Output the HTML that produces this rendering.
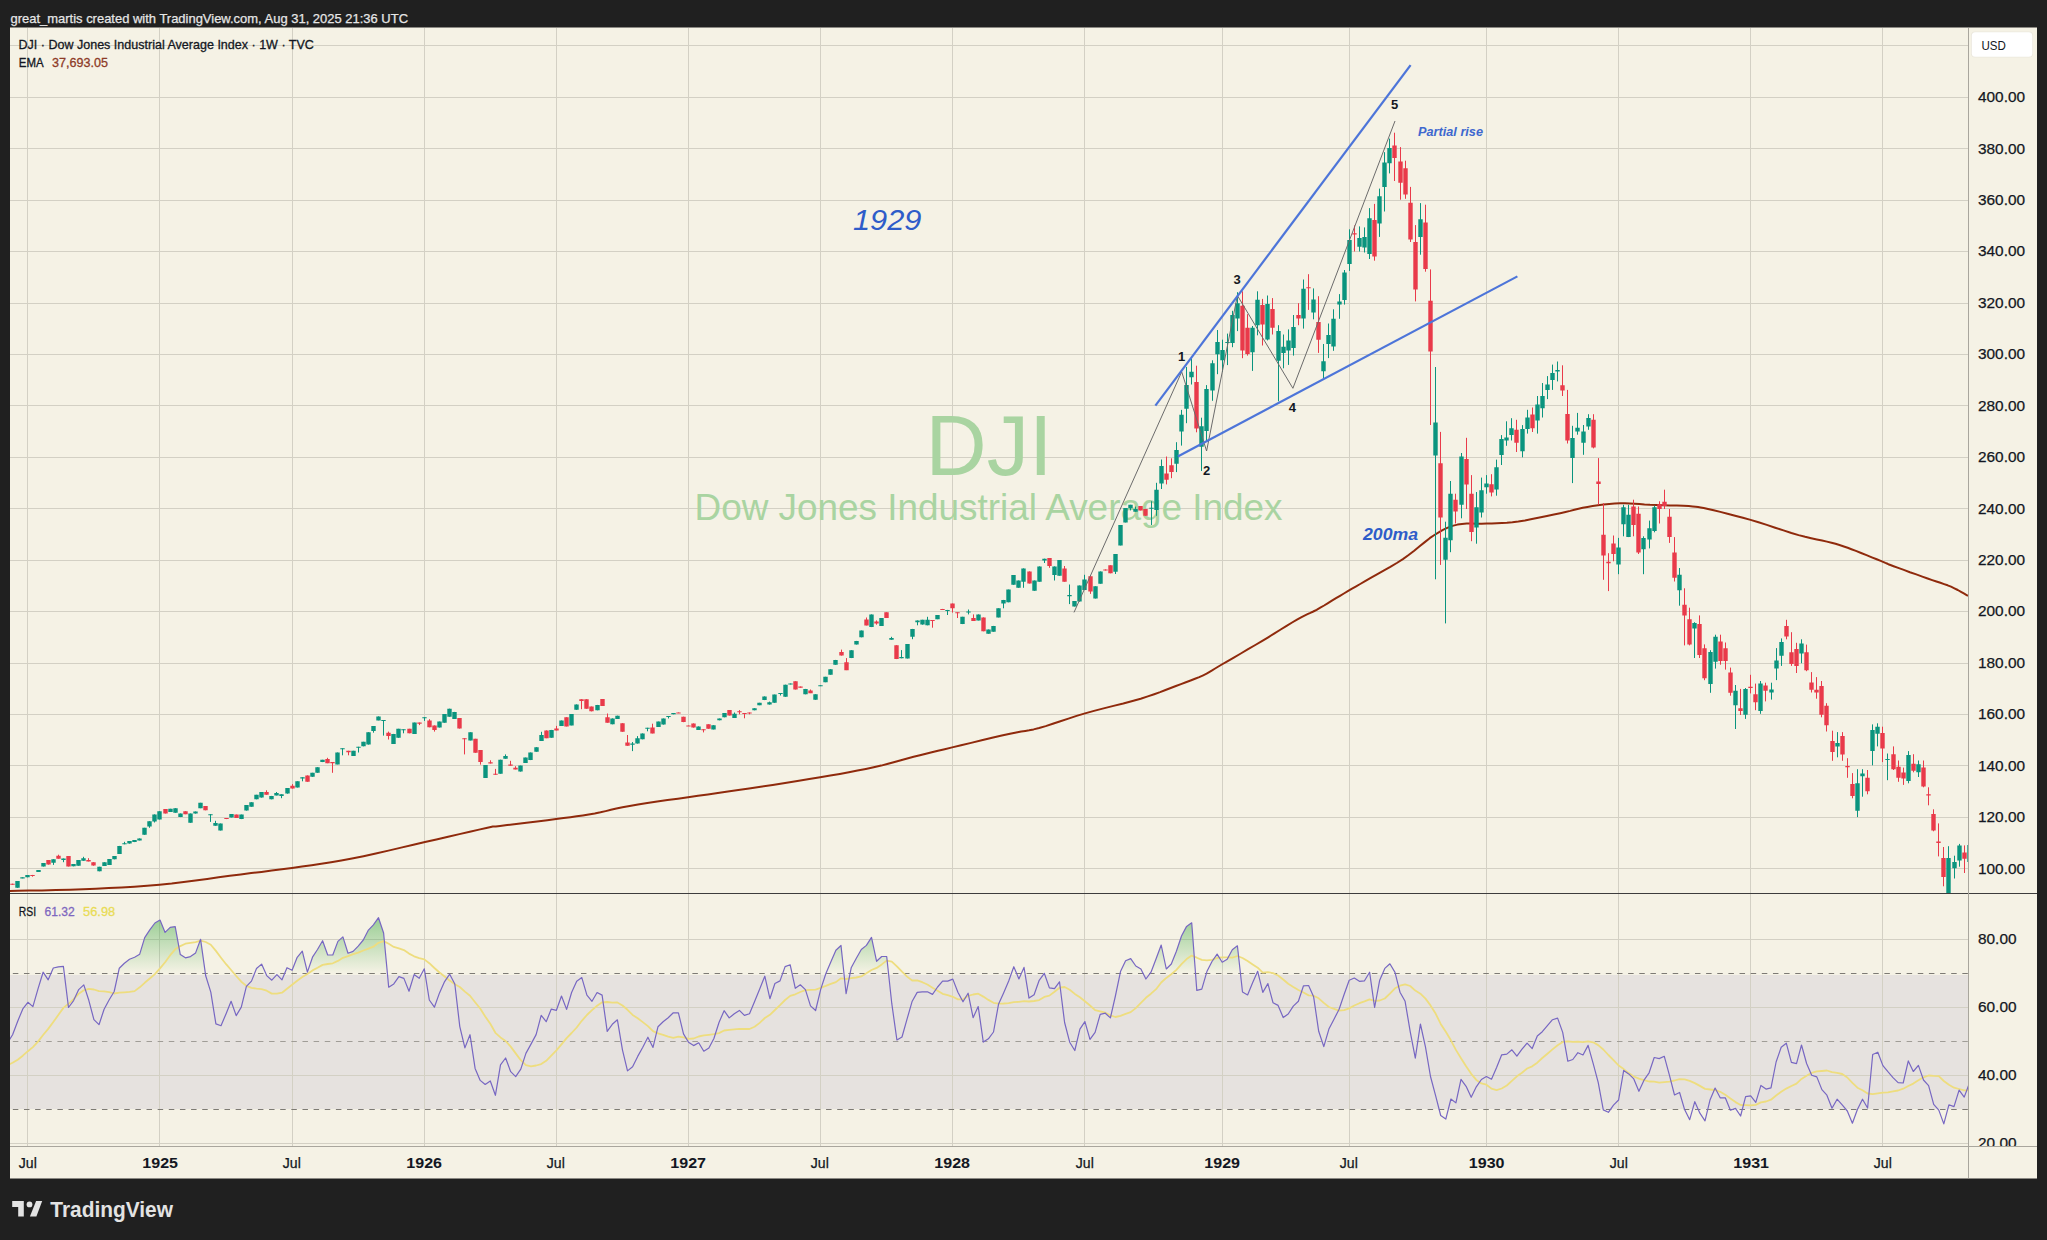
<!DOCTYPE html>
<html><head><meta charset="utf-8"><style>html,body{margin:0;padding:0;background:#202020;}svg{display:block;}text{font-family:"Liberation Sans",sans-serif;}</style></head>
<body><svg width="2047" height="1240" viewBox="0 0 2047 1240">
<rect x="0" y="0" width="2047" height="1240" fill="#202020"/>
<rect x="10" y="27.5" width="2027" height="1151" fill="#f5f2e5"/>
<rect x="10" y="975" width="1958" height="134" fill="#e6e2df"/>
<line x1="27.5" y1="28" x2="27.5" y2="1147" stroke="#d3d0c4" stroke-width="1"/>
<line x1="159.5" y1="28" x2="159.5" y2="1147" stroke="#d3d0c4" stroke-width="1"/>
<line x1="292.5" y1="28" x2="292.5" y2="1147" stroke="#d3d0c4" stroke-width="1"/>
<line x1="424.5" y1="28" x2="424.5" y2="1147" stroke="#d3d0c4" stroke-width="1"/>
<line x1="556.5" y1="28" x2="556.5" y2="1147" stroke="#d3d0c4" stroke-width="1"/>
<line x1="688.5" y1="28" x2="688.5" y2="1147" stroke="#d3d0c4" stroke-width="1"/>
<line x1="820.5" y1="28" x2="820.5" y2="1147" stroke="#d3d0c4" stroke-width="1"/>
<line x1="952.5" y1="28" x2="952.5" y2="1147" stroke="#d3d0c4" stroke-width="1"/>
<line x1="1084.5" y1="28" x2="1084.5" y2="1147" stroke="#d3d0c4" stroke-width="1"/>
<line x1="1222.5" y1="28" x2="1222.5" y2="1147" stroke="#d3d0c4" stroke-width="1"/>
<line x1="1349.5" y1="28" x2="1349.5" y2="1147" stroke="#d3d0c4" stroke-width="1"/>
<line x1="1486.5" y1="28" x2="1486.5" y2="1147" stroke="#d3d0c4" stroke-width="1"/>
<line x1="1618.5" y1="28" x2="1618.5" y2="1147" stroke="#d3d0c4" stroke-width="1"/>
<line x1="1750.5" y1="28" x2="1750.5" y2="1147" stroke="#d3d0c4" stroke-width="1"/>
<line x1="1882.5" y1="28" x2="1882.5" y2="1147" stroke="#d3d0c4" stroke-width="1"/>
<line x1="10" y1="868.5" x2="1968" y2="868.5" stroke="#d3d0c4" stroke-width="1"/>
<line x1="10" y1="817.5" x2="1968" y2="817.5" stroke="#d3d0c4" stroke-width="1"/>
<line x1="10" y1="765.5" x2="1968" y2="765.5" stroke="#d3d0c4" stroke-width="1"/>
<line x1="10" y1="714.5" x2="1968" y2="714.5" stroke="#d3d0c4" stroke-width="1"/>
<line x1="10" y1="663.5" x2="1968" y2="663.5" stroke="#d3d0c4" stroke-width="1"/>
<line x1="10" y1="611.5" x2="1968" y2="611.5" stroke="#d3d0c4" stroke-width="1"/>
<line x1="10" y1="560.5" x2="1968" y2="560.5" stroke="#d3d0c4" stroke-width="1"/>
<line x1="10" y1="508.5" x2="1968" y2="508.5" stroke="#d3d0c4" stroke-width="1"/>
<line x1="10" y1="457.5" x2="1968" y2="457.5" stroke="#d3d0c4" stroke-width="1"/>
<line x1="10" y1="405.5" x2="1968" y2="405.5" stroke="#d3d0c4" stroke-width="1"/>
<line x1="10" y1="354.5" x2="1968" y2="354.5" stroke="#d3d0c4" stroke-width="1"/>
<line x1="10" y1="303.5" x2="1968" y2="303.5" stroke="#d3d0c4" stroke-width="1"/>
<line x1="10" y1="251.5" x2="1968" y2="251.5" stroke="#d3d0c4" stroke-width="1"/>
<line x1="10" y1="200.5" x2="1968" y2="200.5" stroke="#d3d0c4" stroke-width="1"/>
<line x1="10" y1="148.5" x2="1968" y2="148.5" stroke="#d3d0c4" stroke-width="1"/>
<line x1="10" y1="97.5" x2="1968" y2="97.5" stroke="#d3d0c4" stroke-width="1"/>
<line x1="10" y1="45.5" x2="1968" y2="45.5" stroke="#d3d0c4" stroke-width="1"/>
<line x1="10" y1="1143.5" x2="1968" y2="1143.5" stroke="#d3d0c4" stroke-width="1"/>
<line x1="10" y1="1075.5" x2="1968" y2="1075.5" stroke="#d3d0c4" stroke-width="1"/>
<line x1="10" y1="1007.5" x2="1968" y2="1007.5" stroke="#d3d0c4" stroke-width="1"/>
<line x1="10" y1="939.5" x2="1968" y2="939.5" stroke="#d3d0c4" stroke-width="1"/>
<line x1="10" y1="973.5" x2="1968" y2="973.5" stroke="#7d7a74" stroke-width="1" stroke-dasharray="5.5,5.64" stroke-dashoffset="8.3"/>
<line x1="10" y1="1041.5" x2="1968" y2="1041.5" stroke="#a09d97" stroke-width="1" stroke-dasharray="5.5,5.64" stroke-dashoffset="8.3"/>
<line x1="10" y1="1109.5" x2="1968" y2="1109.5" stroke="#7d7a74" stroke-width="1" stroke-dasharray="5.5,5.64" stroke-dashoffset="8.3"/>
<text x="989" y="474.8" font-family="Liberation Sans" font-size="86" fill="#a9d4a1" text-anchor="middle" textLength="127" lengthAdjust="spacingAndGlyphs">DJI</text>
<text x="988.5" y="520" font-family="Liberation Sans" font-size="37" fill="#a9d4a1" text-anchor="middle" textLength="588" lengthAdjust="spacingAndGlyphs">Dow Jones Industrial Average Index</text>
<defs><clipPath id="mc"><rect x="10" y="28" width="1958" height="865"/></clipPath><clipPath id="rc"><rect x="10" y="894" width="1958" height="253"/></clipPath></defs>
<g clip-path="url(#mc)">
<polyline fill="none" stroke="#8f2a0c" stroke-width="2" stroke-linejoin="round" points="10.0,891.0 17.9,890.8 28.9,890.6 41.9,890.4 55.9,890.1 70.1,889.7 83.3,889.2 95.9,888.7 108.7,888.1 121.6,887.5 134.4,886.7 147.1,885.8 159.5,884.8 171.7,883.6 183.7,882.1 195.5,880.5 207.2,878.9 218.6,877.3 229.8,875.8 240.7,874.4 251.2,873.1 261.5,871.9 271.7,870.6 281.9,869.3 292.0,867.9 302.0,866.5 311.7,865.2 321.3,863.8 331.1,862.3 341.3,860.6 352.0,858.6 363.5,856.2 375.8,853.5 388.4,850.6 401.1,847.6 413.4,844.7 425.0,842.0 436.4,839.4 448.1,836.7 459.4,834.1 469.8,831.7 479.0,829.6 486.3,828.0 490.8,827.0 492.8,826.6 493.5,826.5 494.1,826.5 495.8,826.4 500.0,825.9 507.1,825.0 516.2,823.9 526.5,822.7 537.1,821.5 547.3,820.2 556.1,819.1 563.6,818.1 570.4,817.2 576.7,816.3 582.8,815.4 588.7,814.4 594.7,813.4 600.5,812.3 605.7,811.1 610.9,809.8 616.4,808.6 622.5,807.2 629.6,805.9 638.0,804.5 647.3,803.1 657.2,801.6 667.5,800.1 677.9,798.7 688.1,797.2 698.0,795.8 707.9,794.4 717.8,793.0 727.9,791.6 738.3,790.1 749.1,788.5 760.6,786.8 772.7,784.9 785.1,783.0 797.4,781.0 809.3,779.1 820.2,777.3 830.3,775.6 839.8,773.9 848.9,772.3 857.5,770.6 865.8,769.0 873.7,767.3 881.2,765.6 888.1,763.8 894.6,762.0 900.9,760.2 907.2,758.5 913.6,756.8 919.9,755.2 925.9,753.7 931.8,752.3 938.0,750.8 944.7,749.2 952.2,747.4 961.1,745.3 971.1,742.9 981.7,740.3 992.1,737.8 1001.8,735.6 1010.0,733.7 1016.3,732.4 1021.2,731.5 1025.3,730.9 1029.2,730.3 1033.6,729.4 1039.1,728.0 1045.7,726.1 1052.8,723.8 1060.4,721.3 1068.4,718.6 1076.6,715.9 1085.0,713.4 1094.0,710.9 1103.6,708.4 1113.5,705.9 1123.3,703.5 1132.5,701.0 1140.7,698.7 1147.8,696.4 1154.2,694.2 1160.1,692.1 1165.5,690.0 1170.7,688.0 1175.9,686.0 1181.0,684.1 1185.9,682.3 1190.6,680.5 1195.0,678.8 1199.2,677.1 1203.2,675.3 1206.6,673.7 1209.2,672.2 1211.7,670.7 1214.3,669.0 1217.6,667.0 1221.8,664.5 1227.3,661.3 1233.8,657.6 1240.8,653.5 1248.1,649.2 1255.3,645.0 1261.9,641.1 1268.2,637.3 1274.5,633.4 1280.7,629.5 1286.6,625.8 1292.1,622.5 1297.0,619.6 1301.1,617.3 1304.5,615.6 1307.5,614.2 1310.4,612.9 1313.3,611.5 1316.6,609.8 1320.3,607.7 1324.1,605.5 1328.0,603.1 1331.9,600.7 1336.0,598.2 1340.0,595.8 1343.9,593.5 1347.8,591.2 1351.6,588.9 1355.7,586.6 1360.2,584.0 1365.1,581.1 1370.7,577.9 1377.0,574.4 1383.6,570.7 1390.3,566.9 1396.8,563.0 1402.9,559.1 1408.6,555.0 1414.2,550.7 1419.6,546.3 1424.8,542.1 1429.7,538.2 1434.4,535.0 1438.7,532.4 1442.5,530.2 1446.1,528.4 1449.7,526.9 1453.4,525.6 1457.5,524.6 1462.0,523.9 1466.7,523.6 1471.6,523.6 1476.6,523.7 1481.7,523.7 1486.8,523.6 1491.8,523.4 1496.8,523.2 1501.8,523.0 1506.9,522.7 1512.4,522.2 1518.3,521.5 1524.9,520.5 1532.0,519.1 1539.5,517.6 1546.9,516.0 1553.9,514.5 1560.2,513.2 1565.5,512.0 1570.2,510.9 1574.4,509.8 1578.6,508.7 1582.8,507.8 1587.5,506.9 1592.6,506.1 1598.0,505.3 1603.6,504.6 1609.2,504.0 1614.7,503.6 1620.0,503.3 1625.0,503.3 1629.9,503.4 1634.6,503.7 1639.4,504.1 1644.5,504.5 1650.0,504.8 1656.2,505.0 1663.0,505.2 1670.0,505.4 1676.9,505.6 1683.3,505.8 1688.7,506.1 1692.8,506.4 1695.7,506.7 1698.1,507.0 1700.6,507.4 1703.7,508.0 1708.0,509.0 1713.7,510.3 1720.3,511.9 1727.5,513.7 1735.1,515.7 1742.9,517.7 1750.6,519.9 1758.5,522.3 1766.8,524.9 1775.2,527.7 1783.5,530.4 1791.4,533.0 1798.6,535.1 1805.1,536.8 1811.2,538.2 1816.8,539.4 1822.1,540.5 1826.9,541.6 1831.5,542.7 1835.5,543.8 1838.7,544.8 1841.7,545.7 1844.6,546.7 1847.7,547.8 1851.4,549.2 1855.9,550.9 1861.1,553.0 1866.5,555.1 1871.8,557.3 1876.7,559.3 1880.7,560.9 1883.6,562.1 1885.4,562.9 1886.9,563.5 1888.3,564.2 1890.4,565.0 1893.6,566.2 1898.2,567.9 1903.8,569.9 1909.9,572.2 1916.3,574.4 1922.3,576.6 1927.6,578.5 1932.2,580.1 1936.4,581.5 1940.4,582.8 1944.1,584.1 1947.6,585.3 1951.0,586.7 1954.4,588.3 1957.8,590.0 1961.0,591.8 1963.8,593.4 1966.2,594.8 1968.0,595.8"/>
<path d="M17.5 881.0V887.8M22.5 877.3V878.3M27.5 875.1V877.3M38.5 870.1V871.9M43.5 863.1V866.5M53.5 859.2V864.9M63.5 858.5V862.2M73.5 864.1V866.3M78.5 860.1V865.7M83.5 856.8V860.8M99.5 866.8V871.3M104.5 862.2V866.0M109.5 859.0V864.9M114.5 856.1V859.3M119.5 845.9V853.9M124.5 841.8V844.3M129.5 841.0V843.6M134.5 840.0V842.1M139.5 838.4V840.4M144.5 827.8V834.8M149.5 821.2V827.8M154.5 814.4V822.5M159.5 811.2V819.5M170.5 808.8V812.0M175.5 808.2V812.8M180.5 813.5V817.1M190.5 813.5V822.8M195.5 811.5V813.6M200.5 802.8V808.2M210.5 814.2V821.9M215.5 820.8V825.7M220.5 823.5V830.5M231.5 814.0V817.4M241.5 814.6V819.1M246.5 805.0V810.6M251.5 802.2V806.7M256.5 794.8V799.3M261.5 792.0V797.6M271.5 795.9V799.3M276.5 792.0V795.4M281.5 794.3V798.2M287.5 788.0V793.7M297.5 781.3V787.5M302.5 777.3V781.3M312.5 772.8V776.8M317.5 767.2V772.8M322.5 759.8V762.1M337.5 752.5V764.3M342.5 748.3V755.3M353.5 750.8V755.9M358.5 746.8V752.5M363.5 741.8V746.3M368.5 732.2V744.6M373.5 726.0V732.7M378.5 716.4V720.3M383.5 720.1V735.6M393.5 733.9V744.0M398.5 728.8V737.8M403.5 729.3V733.3M414.5 722.6V733.9M424.5 717.2V720.9M439.5 721.6V727.5M444.5 714.1V722.7M449.5 708.7V716.7M454.5 711.9V718.9M470.5 732.3V740.4M485.5 765.1V778.0M500.5 759.7V773.7M505.5 754.4V758.7M520.5 765.6V771.6M525.5 757.6V763.0M530.5 752.5V760.1M536.5 747.2V751.7M541.5 731.8V740.9M551.5 729.9V737.7M561.5 720.5V725.9M571.5 714.1V725.3M576.5 704.4V709.8M597.5 704.9V710.3M612.5 718.4V724.3M617.5 715.7V718.9M632.5 742.0V751.1M637.5 736.1V743.6M642.5 733.4V739.3M647.5 727.8V731.3M658.5 721.6V727.0M663.5 718.5V724.6M668.5 716.1V718.5M673.5 713.1V714.3M698.5 726.4V730.0M713.5 725.2V729.4M719.5 718.5V720.3M724.5 713.1V717.3M734.5 712.5V717.9M754.5 708.2V710.3M759.5 702.8V705.2M764.5 696.4V700.1M769.5 701.6V704.6M774.5 694.6V702.8M780.5 693.1V695.5M785.5 684.7V696.8M790.5 683.5V684.4M805.5 688.9V694.3M815.5 694.3V699.8M820.5 685.3V686.1M825.5 676.8V682.2M830.5 669.2V674.7M835.5 659.9V664.7M851.5 650.2V658.1M856.5 640.9V644.5M861.5 630.5V637.3M871.5 614.4V627.1M881.5 618.0V625.9M891.5 636.8V639.8M901.5 650.1V658.3M907.5 644.0V658.5M912.5 628.9V639.2M917.5 620.4V625.3M922.5 619.8V624.7M927.5 616.8V625.3M937.5 615.0V619.2M947.5 609.9V615.0M962.5 616.8V624.1M968.5 609.5V614.4M978.5 614.4V620.4M988.5 629.5V633.7M993.5 625.9V631.7M998.5 608.3V617.4M1003.5 599.9V608.3M1008.5 589.6V602.3M1013.5 575.1V584.8M1018.5 580.5V587.8M1023.5 568.4V587.8M1034.5 580.5V590.8M1039.5 566.4V581.7M1044.5 558.7V563.0M1054.5 566.4V580.5M1059.5 560.0V575.7M1069.5 584.5V604.1M1074.5 601.1V606.5M1079.5 585.5V601.6M1084.5 574.8V590.1M1095.5 586.3V598.5M1100.5 571.4V583.7M1115.5 554.1V574.0M1120.5 525.0V545.4M1125.5 508.1V522.4M1130.5 504.8V510.4M1135.5 506.6V511.6M1151.5 501.2V525.0M1156.5 482.8V515.8M1161.5 459.5V489.0M1176.5 442.2V472.1M1181.5 409.9V445.6M1186.5 366.9V423.2M1191.5 358.4V384.5M1201.5 417.7V471.0M1206.5 385.1V441.3M1212.5 360.3V400.8M1217.5 330.0V374.2M1222.5 339.7V371.8M1227.5 333.6V365.1M1232.5 310.8V347.2M1237.5 292.2V331.1M1252.5 326.0V370.9M1257.5 291.3V335.3M1267.5 295.5V340.4M1278.5 325.2V401.3M1283.5 334.5V368.3M1288.5 329.4V364.9M1293.5 315.0V355.6M1303.5 279.5V328.6M1313.5 288.4V319.3M1323.5 344.0V378.0M1328.5 323.5V358.1M1333.5 309.3V350.8M1339.5 294.1V318.8M1344.5 270.0V304.6M1349.5 229.3V270.9M1359.5 226.4V251.5M1364.5 227.4V252.5M1369.5 208.1V259.0M1379.5 188.6V236.9M1384.5 152.2V211.5M1389.5 138.6V173.4M1420.5 203.1V254.7M1435.5 367.0V579.3M1445.5 521.7V623.4M1450.5 481.0V552.2M1461.5 453.0V518.3M1476.5 492.0V543.7M1481.5 477.6V517.5M1486.5 475.1V493.7M1496.5 459.6V495.7M1501.5 435.1V465.0M1506.5 421.3V445.8M1511.5 418.2V440.5M1522.5 425.1V457.3M1527.5 409.8V433.6M1537.5 396.0V433.6M1542.5 383.0V417.5M1547.5 376.1V399.1M1552.5 364.6V389.9M1557.5 361.5V381.4M1572.5 425.8V483.1M1577.5 412.9V434.7M1583.5 425.0V454.8M1588.5 414.2V429.8M1618.5 537.9V574.2M1623.5 504.8V536.3M1628.5 504.8V537.1M1643.5 536.3V574.2M1649.5 520.6V548.4M1654.5 505.6V532.3M1679.5 568.0V605.7M1694.5 622.2V658.0M1710.5 650.2V692.8M1715.5 634.7V668.6M1735.5 685.0V729.0M1745.5 688.0V718.9M1760.5 681.0V713.8M1771.5 682.7V699.6M1776.5 648.1V680.1M1781.5 638.4V665.9M1801.5 639.3V663.2M1837.5 732.1V757.3M1857.5 769.2V817.1M1862.5 769.2V796.7M1872.5 724.4V765.3M1877.5 723.3V746.4M1887.5 753.5V780.2M1908.5 751.1V783.3M1918.5 760.5V777.0M1948.5 846.2V895.0M1954.5 855.7V878.5M1959.5 843.9V866.7M1969.5 836.0V870.0" stroke="#0a947e" stroke-width="1" fill="none"/>
<path d="M12.5 883.7V884.8M32.5 874.9V876.7M48.5 860.1V864.6M58.5 854.7V858.7M68.5 856.1V866.5M88.5 858.2V861.4M93.5 862.2V865.7M165.5 809.0V813.5M185.5 811.2V814.2M205.5 806.1V810.3M226.5 818.0V819.1M236.5 814.6V818.0M266.5 790.3V794.8M292.5 784.1V788.6M307.5 775.4V781.8M327.5 757.8V763.2M332.5 762.1V772.8M348.5 750.8V755.3M388.5 731.6V739.5M409.5 728.8V733.3M419.5 722.6V725.1M429.5 719.2V727.3M434.5 725.4V731.6M459.5 718.1V728.6M464.5 738.2V754.4M475.5 738.8V752.8M480.5 750.1V764.6M490.5 760.3V763.5M495.5 768.9V774.8M510.5 760.8V765.6M515.5 766.2V769.4M546.5 730.4V738.2M556.5 725.9V730.4M566.5 717.3V726.4M581.5 699.2V709.2M586.5 699.2V708.7M591.5 706.5V711.4M602.5 699.0V706.0M607.5 713.5V722.7M622.5 723.2V731.8M627.5 735.0V745.8M652.5 723.7V733.4M678.5 712.5V713.1M683.5 716.7V722.2M688.5 725.5V726.0M693.5 723.4V727.6M703.5 729.2V732.4M708.5 724.3V728.8M729.5 710.1V715.5M739.5 710.1V714.3M744.5 713.1V718.3M749.5 712.5V714.3M795.5 681.3V689.5M800.5 686.5V687.7M810.5 689.5V693.1M841.5 649.6V655.6M846.5 658.1V670.1M866.5 617.5V625.4M876.5 620.4V624.7M886.5 612.3V618.0M896.5 645.2V659.1M932.5 620.1V627.7M942.5 608.9V609.9M952.5 603.5V612.6M957.5 612.3V618.0M973.5 614.4V621.0M983.5 617.4V631.3M1029.5 571.4V583.5M1049.5 558.1V567.8M1064.5 566.0V581.7M1090.5 576.3V593.9M1105.5 569.4V570.5M1110.5 565.3V573.3M1140.5 506.1V510.4M1145.5 508.9V515.8M1166.5 456.5V484.4M1171.5 458.3V478.2M1196.5 365.7V432.3M1242.5 291.3V358.2M1247.5 314.2V355.6M1262.5 298.9V345.5M1272.5 298.1V334.5M1298.5 303.2V325.2M1308.5 274.2V309.9M1318.5 296.2V352.9M1354.5 225.4V251.5M1374.5 203.9V260.7M1394.5 132.7V181.0M1400.5 147.1V199.7M1405.5 160.7V198.8M1410.5 186.9V242.0M1415.5 225.1V301.4M1425.5 204.7V271.7M1430.5 269.4V425.0M1440.5 431.9V564.9M1455.5 493.7V523.4M1466.5 437.8V509.0M1471.5 475.1V541.2M1491.5 474.2V496.4M1516.5 419.8V452.0M1532.5 407.5V432.0M1562.5 365.3V396.0M1567.5 389.9V443.5M1593.5 414.2V448.4M1598.5 458.1V504.8M1603.5 503.2V579.8M1608.5 553.2V591.1M1613.5 535.5V561.3M1633.5 499.7V536.3M1638.5 506.5V554.0M1659.5 501.3V523.5M1664.5 489.7V509.0M1669.5 509.0V542.9M1674.5 537.1V581.5M1684.5 588.3V645.4M1689.5 607.7V645.4M1699.5 615.4V658.0M1704.5 644.4V680.2M1720.5 634.7V664.7M1725.5 642.5V669.6M1730.5 667.6V695.7M1740.5 688.9V715.0M1750.5 674.8V693.4M1755.5 683.6V710.2M1765.5 682.7V701.4M1786.5 619.8V639.3M1791.5 632.2V665.9M1796.5 642.8V673.0M1806.5 644.6V671.2M1811.5 672.1V692.5M1816.5 677.1V698.7M1821.5 681.0V717.3M1826.5 703.2V731.5M1832.5 730.7V760.8M1842.5 732.1V760.8M1847.5 758.2V777.8M1852.5 773.1V798.3M1867.5 770.0V794.3M1882.5 726.7V762.1M1893.5 746.4V770.0M1898.5 760.5V781.8M1903.5 767.6V784.9M1913.5 754.2V772.3M1923.5 760.5V787.3M1928.5 787.3V805.3M1933.5 809.3V831.3M1938.5 823.4V856.4M1943.5 847.0V886.3M1964.5 845.4V873.0" stroke="#e93a4a" stroke-width="1" fill="none"/>
<path d="M15.30 881.0h4.4v6.8h-4.4zM20.30 877.3h4.4v1.1h-4.4zM25.30 875.1h4.4v2.1h-4.4zM36.30 870.1h4.4v1.8h-4.4zM41.30 863.1h4.4v3.4h-4.4zM51.30 859.2h4.4v3.5h-4.4zM61.30 858.5h4.4v1.6h-4.4zM71.30 864.1h4.4v2.1h-4.4zM76.30 860.1h4.4v5.6h-4.4zM81.30 858.2h4.4v2.6h-4.4zM97.30 866.8h4.4v4.5h-4.4zM102.30 862.2h4.4v3.8h-4.4zM107.30 859.0h4.4v5.9h-4.4zM112.30 856.1h4.4v3.2h-4.4zM117.30 845.9h4.4v8.1h-4.4zM122.30 843.2h4.4v1.1h-4.4zM127.30 841.0h4.4v2.6h-4.4zM132.30 840.0h4.4v2.1h-4.4zM137.30 838.4h4.4v2.0h-4.4zM142.30 827.8h4.4v7.0h-4.4zM147.30 821.2h4.4v5.3h-4.4zM152.30 814.4h4.4v7.0h-4.4zM157.30 811.2h4.4v8.4h-4.4zM168.30 808.8h4.4v3.2h-4.4zM173.30 808.2h4.4v4.6h-4.4zM178.30 813.5h4.4v3.5h-4.4zM188.30 813.5h4.4v9.2h-4.4zM193.30 811.5h4.4v2.1h-4.4zM198.30 802.8h4.4v5.4h-4.4zM208.30 814.2h4.4v1.0h-4.4zM213.30 823.0h4.4v2.7h-4.4zM218.30 823.5h4.4v7.0h-4.4zM229.30 814.0h4.4v3.4h-4.4zM239.30 814.6h4.4v4.5h-4.4zM244.30 805.0h4.4v5.6h-4.4zM249.30 802.2h4.4v4.5h-4.4zM254.30 794.8h4.4v4.5h-4.4zM259.30 792.0h4.4v5.6h-4.4zM269.30 795.9h4.4v3.4h-4.4zM274.30 793.1h4.4v2.3h-4.4zM279.30 794.3h4.4v1.7h-4.4zM285.30 788.0h4.4v5.6h-4.4zM295.30 781.3h4.4v6.2h-4.4zM300.30 777.3h4.4v1.1h-4.4zM310.30 772.8h4.4v4.0h-4.4zM315.30 767.2h4.4v5.6h-4.4zM320.30 759.8h4.4v2.3h-4.4zM335.30 752.5h4.4v11.9h-4.4zM340.30 748.3h4.4v1.0h-4.4zM351.30 750.8h4.4v5.1h-4.4zM356.30 746.8h4.4v1.0h-4.4zM361.30 741.8h4.4v4.5h-4.4zM366.30 732.2h4.4v12.4h-4.4zM371.30 726.0h4.4v5.1h-4.4zM376.30 716.4h4.4v4.0h-4.4zM381.30 720.1h4.4v1.0h-4.4zM391.30 733.9h4.4v10.2h-4.4zM396.30 728.8h4.4v9.0h-4.4zM401.30 729.3h4.4v1.0h-4.4zM412.30 722.6h4.4v11.3h-4.4zM422.30 717.2h4.4v1.0h-4.4zM437.30 721.6h4.4v5.9h-4.4zM442.30 714.1h4.4v8.6h-4.4zM447.30 708.7h4.4v8.1h-4.4zM452.30 711.9h4.4v7.0h-4.4zM468.30 732.3h4.4v8.1h-4.4zM483.30 765.1h4.4v12.9h-4.4zM498.30 759.7h4.4v14.0h-4.4zM503.30 756.0h4.4v2.7h-4.4zM518.30 765.6h4.4v5.9h-4.4zM523.30 757.6h4.4v5.4h-4.4zM528.30 752.5h4.4v7.5h-4.4zM534.30 747.2h4.4v4.5h-4.4zM539.30 735.0h4.4v5.9h-4.4zM549.30 729.9h4.4v7.8h-4.4zM559.30 720.5h4.4v5.4h-4.4zM569.30 714.1h4.4v11.3h-4.4zM574.30 704.4h4.4v5.4h-4.4zM595.30 704.9h4.4v5.4h-4.4zM610.30 718.4h4.4v5.9h-4.4zM615.30 715.7h4.4v3.2h-4.4zM630.30 743.6h4.4v1.1h-4.4zM635.30 738.2h4.4v5.4h-4.4zM640.30 733.4h4.4v5.9h-4.4zM645.30 727.8h4.4v1.0h-4.4zM656.30 721.6h4.4v5.4h-4.4zM661.30 718.5h4.4v6.0h-4.4zM666.30 716.1h4.4v1.0h-4.4zM671.30 713.1h4.4v1.2h-4.4zM696.30 726.4h4.4v3.6h-4.4zM711.30 725.2h4.4v4.2h-4.4zM717.30 718.5h4.4v1.8h-4.4zM722.30 713.1h4.4v4.2h-4.4zM732.30 713.7h4.4v4.2h-4.4zM752.30 708.2h4.4v2.1h-4.4zM757.30 702.8h4.4v2.4h-4.4zM762.30 696.4h4.4v3.7h-4.4zM767.30 702.2h4.4v2.4h-4.4zM772.30 694.6h4.4v8.2h-4.4zM778.30 693.1h4.4v1.0h-4.4zM783.30 684.7h4.4v12.1h-4.4zM788.30 683.5h4.4v1.0h-4.4zM803.30 688.9h4.4v5.4h-4.4zM813.30 694.3h4.4v5.4h-4.4zM818.30 685.3h4.4v1.0h-4.4zM823.30 676.8h4.4v5.4h-4.4zM828.30 669.2h4.4v5.6h-4.4zM833.30 659.9h4.4v4.8h-4.4zM849.30 650.2h4.4v7.9h-4.4zM854.30 640.9h4.4v3.6h-4.4zM859.30 630.5h4.4v6.8h-4.4zM869.30 614.4h4.4v12.7h-4.4zM879.30 618.0h4.4v7.9h-4.4zM889.30 638.0h4.4v1.8h-4.4zM899.30 657.1h4.4v1.2h-4.4zM905.30 644.0h4.4v14.5h-4.4zM910.30 628.9h4.4v7.9h-4.4zM915.30 620.4h4.4v1.8h-4.4zM920.30 619.8h4.4v4.8h-4.4zM925.30 619.8h4.4v5.4h-4.4zM935.30 615.0h4.4v4.2h-4.4zM945.30 609.9h4.4v1.0h-4.4zM960.30 616.8h4.4v7.3h-4.4zM966.30 611.4h4.4v1.2h-4.4zM976.30 614.4h4.4v6.0h-4.4zM986.30 629.5h4.4v4.2h-4.4zM991.30 625.9h4.4v5.8h-4.4zM996.30 608.3h4.4v9.1h-4.4zM1001.30 599.9h4.4v3.6h-4.4zM1006.30 589.6h4.4v12.7h-4.4zM1011.30 575.1h4.4v9.7h-4.4zM1016.30 580.5h4.4v7.3h-4.4zM1021.30 568.4h4.4v13.3h-4.4zM1032.30 580.5h4.4v10.3h-4.4zM1037.30 566.4h4.4v15.4h-4.4zM1042.30 558.7h4.4v1.8h-4.4zM1052.30 566.4h4.4v8.7h-4.4zM1057.30 560.0h4.4v15.7h-4.4zM1067.30 595.0h4.4v1.2h-4.4zM1072.30 601.1h4.4v5.4h-4.4zM1077.30 585.5h4.4v16.1h-4.4zM1082.30 579.4h4.4v10.7h-4.4zM1093.30 586.3h4.4v12.3h-4.4zM1098.30 571.4h4.4v12.3h-4.4zM1113.30 554.1h4.4v17.6h-4.4zM1118.30 525.0h4.4v20.4h-4.4zM1123.30 508.1h4.4v14.3h-4.4zM1128.30 504.8h4.4v3.4h-4.4zM1133.30 508.9h4.4v2.8h-4.4zM1149.30 507.7h4.4v1.0h-4.4zM1154.30 489.7h4.4v20.4h-4.4zM1159.30 466.0h4.4v17.6h-4.4zM1174.30 449.9h4.4v13.8h-4.4zM1179.30 414.7h4.4v16.9h-4.4zM1184.30 385.1h4.4v23.6h-4.4zM1189.30 371.8h4.4v5.4h-4.4zM1199.30 426.2h4.4v20.6h-4.4zM1204.30 389.1h4.4v42.0h-4.4zM1210.30 363.3h4.4v27.2h-4.4zM1215.30 342.1h4.4v12.1h-4.4zM1220.30 350.0h4.4v10.3h-4.4zM1225.30 342.1h4.4v1.0h-4.4zM1230.30 315.0h4.4v27.9h-4.4zM1235.30 303.2h4.4v15.2h-4.4zM1250.30 327.7h4.4v24.5h-4.4zM1255.30 299.8h4.4v25.4h-4.4zM1265.30 304.0h4.4v35.5h-4.4zM1276.30 331.1h4.4v29.6h-4.4zM1281.30 346.7h4.4v6.4h-4.4zM1286.30 340.4h4.4v10.2h-4.4zM1291.30 326.9h4.4v21.2h-4.4zM1301.30 288.8h4.4v29.6h-4.4zM1311.30 299.4h4.4v13.1h-4.4zM1321.30 361.3h4.4v10.0h-4.4zM1326.30 335.0h4.4v8.9h-4.4zM1331.30 318.8h4.4v27.8h-4.4zM1337.30 301.5h4.4v3.1h-4.4zM1342.30 272.6h4.4v27.3h-4.4zM1347.30 239.9h4.4v24.2h-4.4zM1357.30 238.0h4.4v8.7h-4.4zM1362.30 237.0h4.4v10.6h-4.4zM1367.30 218.3h4.4v35.6h-4.4zM1377.30 196.3h4.4v27.1h-4.4zM1382.30 162.4h4.4v24.6h-4.4zM1387.30 148.0h4.4v15.3h-4.4zM1418.30 219.2h4.4v17.8h-4.4zM1433.30 422.5h4.4v33.1h-4.4zM1443.30 537.8h4.4v22.0h-4.4zM1448.30 493.7h4.4v46.6h-4.4zM1459.30 456.4h4.4v48.3h-4.4zM1474.30 507.3h4.4v20.3h-4.4zM1479.30 490.3h4.4v22.2h-4.4zM1484.30 483.4h4.4v3.8h-4.4zM1494.30 467.3h4.4v22.2h-4.4zM1499.30 438.9h4.4v16.1h-4.4zM1504.30 437.4h4.4v3.1h-4.4zM1509.30 428.2h4.4v6.9h-4.4zM1520.30 429.0h4.4v22.2h-4.4zM1525.30 417.5h4.4v11.5h-4.4zM1535.30 404.4h4.4v16.1h-4.4zM1540.30 396.0h4.4v12.3h-4.4zM1545.30 384.5h4.4v5.4h-4.4zM1550.30 373.0h4.4v6.9h-4.4zM1555.30 369.9h4.4v1.6h-4.4zM1570.30 437.9h4.4v20.2h-4.4zM1575.30 427.7h4.4v3.8h-4.4zM1581.30 431.5h4.4v11.2h-4.4zM1586.30 418.1h4.4v8.5h-4.4zM1616.30 547.6h4.4v16.9h-4.4zM1621.30 507.3h4.4v16.9h-4.4zM1626.30 514.8h4.4v22.3h-4.4zM1641.30 537.9h4.4v11.3h-4.4zM1647.30 528.2h4.4v11.3h-4.4zM1652.30 507.2h4.4v23.7h-4.4zM1677.30 574.8h4.4v15.5h-4.4zM1692.30 623.1h4.4v5.4h-4.4zM1708.30 652.1h4.4v32.0h-4.4zM1713.30 636.7h4.4v25.1h-4.4zM1733.30 690.8h4.4v14.5h-4.4zM1743.30 689.0h4.4v25.8h-4.4zM1758.30 683.6h4.4v27.5h-4.4zM1769.30 689.5h4.4v3.0h-4.4zM1774.30 660.6h4.4v8.0h-4.4zM1779.30 641.9h4.4v13.9h-4.4zM1799.30 643.4h4.4v10.1h-4.4zM1835.30 743.1h4.4v3.5h-4.4zM1855.30 783.3h4.4v27.5h-4.4zM1860.30 773.6h4.4v2.7h-4.4zM1870.30 729.9h4.4v21.2h-4.4zM1875.30 726.7h4.4v7.1h-4.4zM1885.30 759.0h4.4v1.0h-4.4zM1906.30 755.0h4.4v26.0h-4.4zM1916.30 764.2h4.4v8.1h-4.4zM1946.30 858.0h4.4v37.0h-4.4zM1952.30 862.0h4.4v6.2h-4.4zM1957.30 845.4h4.4v15.0h-4.4zM1967.30 845.0h4.4v17.0h-4.4z" fill="#0a947e"/>
<path d="M10.30 883.7h4.4v1.1h-4.4zM30.30 874.9h4.4v1.1h-4.4zM46.30 860.1h4.4v4.5h-4.4zM56.30 855.8h4.4v2.9h-4.4zM66.30 856.1h4.4v10.4h-4.4zM86.30 860.1h4.4v1.3h-4.4zM91.30 862.2h4.4v3.4h-4.4zM163.30 809.0h4.4v4.5h-4.4zM183.30 811.2h4.4v3.0h-4.4zM203.30 806.1h4.4v4.2h-4.4zM224.30 818.0h4.4v1.1h-4.4zM234.30 814.6h4.4v3.4h-4.4zM264.30 792.0h4.4v2.8h-4.4zM290.30 785.8h4.4v2.8h-4.4zM305.30 775.4h4.4v6.4h-4.4zM325.30 758.9h4.4v4.3h-4.4zM330.30 762.1h4.4v1.1h-4.4zM346.30 750.8h4.4v1.4h-4.4zM386.30 732.7h4.4v3.4h-4.4zM407.30 728.8h4.4v4.5h-4.4zM417.30 722.6h4.4v1.1h-4.4zM427.30 720.5h4.4v6.8h-4.4zM432.30 725.4h4.4v4.5h-4.4zM457.30 718.1h4.4v10.4h-4.4zM462.30 738.2h4.4v1.1h-4.4zM473.30 738.8h4.4v14.0h-4.4zM478.30 750.1h4.4v11.8h-4.4zM488.30 762.2h4.4v1.3h-4.4zM493.30 773.7h4.4v1.1h-4.4zM508.30 764.4h4.4v1.3h-4.4zM513.30 767.8h4.4v1.6h-4.4zM544.30 730.4h4.4v7.8h-4.4zM554.30 728.6h4.4v1.8h-4.4zM564.30 717.3h4.4v9.1h-4.4zM579.30 699.2h4.4v1.9h-4.4zM584.30 699.2h4.4v9.5h-4.4zM589.30 706.5h4.4v4.8h-4.4zM600.30 699.0h4.4v7.0h-4.4zM605.30 717.3h4.4v5.4h-4.4zM620.30 723.2h4.4v8.6h-4.4zM625.30 742.5h4.4v3.2h-4.4zM650.30 727.5h4.4v5.9h-4.4zM676.30 712.5h4.4v1.0h-4.4zM681.30 716.7h4.4v5.4h-4.4zM686.30 725.5h4.4v1.0h-4.4zM691.30 723.4h4.4v4.2h-4.4zM701.30 729.2h4.4v1.0h-4.4zM706.30 724.3h4.4v4.5h-4.4zM727.30 710.1h4.4v5.4h-4.4zM737.30 711.3h4.4v1.0h-4.4zM742.30 713.1h4.4v1.0h-4.4zM747.30 712.5h4.4v1.0h-4.4zM793.30 681.3h4.4v8.2h-4.4zM798.30 686.5h4.4v1.2h-4.4zM808.30 690.5h4.4v2.7h-4.4zM839.30 652.0h4.4v3.6h-4.4zM844.30 662.3h4.4v7.9h-4.4zM864.30 619.4h4.4v6.0h-4.4zM874.30 621.6h4.4v1.8h-4.4zM884.30 612.3h4.4v5.7h-4.4zM894.30 645.2h4.4v13.9h-4.4zM930.30 620.1h4.4v1.0h-4.4zM940.30 608.9h4.4v1.0h-4.4zM950.30 603.5h4.4v4.8h-4.4zM955.30 612.3h4.4v1.0h-4.4zM971.30 618.0h4.4v3.0h-4.4zM981.30 617.4h4.4v13.9h-4.4zM1027.30 571.4h4.4v12.1h-4.4zM1047.30 558.1h4.4v7.9h-4.4zM1062.30 568.4h4.4v13.3h-4.4zM1088.30 576.3h4.4v15.3h-4.4zM1103.30 569.4h4.4v1.1h-4.4zM1108.30 565.3h4.4v8.0h-4.4zM1138.30 506.1h4.4v4.3h-4.4zM1143.30 508.9h4.4v6.9h-4.4zM1164.30 473.6h4.4v6.1h-4.4zM1169.30 465.2h4.4v6.9h-4.4zM1194.30 382.0h4.4v46.6h-4.4zM1240.30 305.7h4.4v44.9h-4.4zM1245.30 327.7h4.4v26.2h-4.4zM1260.30 304.9h4.4v19.5h-4.4zM1270.30 309.1h4.4v18.6h-4.4zM1296.30 315.0h4.4v3.4h-4.4zM1306.30 287.3h4.4v1.0h-4.4zM1316.30 321.9h4.4v17.8h-4.4zM1352.30 233.2h4.4v1.4h-4.4zM1372.30 220.0h4.4v36.4h-4.4zM1392.30 145.4h4.4v12.7h-4.4zM1398.30 161.5h4.4v21.2h-4.4zM1403.30 168.3h4.4v26.3h-4.4zM1408.30 202.7h4.4v36.8h-4.4zM1413.30 242.0h4.4v47.5h-4.4zM1423.30 222.5h4.4v46.6h-4.4zM1428.30 300.8h4.4v50.8h-4.4zM1438.30 463.2h4.4v54.3h-4.4zM1453.30 499.7h4.4v11.8h-4.4zM1464.30 459.0h4.4v25.4h-4.4zM1469.30 493.7h4.4v38.2h-4.4zM1489.30 484.2h4.4v8.4h-4.4zM1514.30 429.7h4.4v13.1h-4.4zM1530.30 414.4h4.4v13.8h-4.4zM1560.30 385.3h4.4v5.3h-4.4zM1565.30 414.0h4.4v26.4h-4.4zM1591.30 419.7h4.4v27.9h-4.4zM1596.30 481.5h4.4v2.4h-4.4zM1601.30 534.7h4.4v20.9h-4.4zM1606.30 561.8h4.4v1.4h-4.4zM1611.30 543.5h4.4v10.5h-4.4zM1631.30 506.5h4.4v18.5h-4.4zM1636.30 513.7h4.4v38.7h-4.4zM1657.30 504.2h4.4v4.8h-4.4zM1662.30 501.7h4.4v4.4h-4.4zM1667.30 516.8h4.4v20.3h-4.4zM1672.30 552.5h4.4v25.2h-4.4zM1682.30 604.8h4.4v10.6h-4.4zM1687.30 619.3h4.4v25.1h-4.4zM1697.30 624.1h4.4v30.9h-4.4zM1702.30 648.3h4.4v30.0h-4.4zM1718.30 641.5h4.4v19.4h-4.4zM1723.30 648.3h4.4v12.6h-4.4zM1728.30 672.5h4.4v20.3h-4.4zM1738.30 708.2h4.4v2.9h-4.4zM1748.30 686.7h4.4v1.4h-4.4zM1753.30 694.3h4.4v8.0h-4.4zM1763.30 685.4h4.4v5.3h-4.4zM1784.30 626.0h4.4v10.6h-4.4zM1789.30 652.2h4.4v11.9h-4.4zM1794.30 649.0h4.4v16.9h-4.4zM1804.30 652.2h4.4v18.1h-4.4zM1809.30 682.4h4.4v7.4h-4.4zM1814.30 689.8h4.4v2.7h-4.4zM1819.30 685.9h4.4v28.8h-4.4zM1824.30 705.8h4.4v19.5h-4.4zM1830.30 740.9h4.4v11.0h-4.4zM1840.30 736.0h4.4v18.6h-4.4zM1845.30 766.0h4.4v1.3h-4.4zM1850.30 784.1h4.4v11.8h-4.4zM1865.30 777.8h4.4v13.4h-4.4zM1880.30 733.0h4.4v15.4h-4.4zM1891.30 754.2h4.4v15.0h-4.4zM1896.30 766.8h4.4v11.0h-4.4zM1901.30 772.6h4.4v6.0h-4.4zM1911.30 763.7h4.4v7.1h-4.4zM1921.30 767.6h4.4v18.9h-4.4zM1926.30 794.3h4.4v1.3h-4.4zM1931.30 814.0h4.4v16.5h-4.4zM1936.30 841.5h4.4v1.6h-4.4zM1941.30 858.0h4.4v18.9h-4.4zM1962.30 852.5h4.4v6.3h-4.4z" fill="#e93a4a"/>
<polyline fill="none" stroke="#6b6b6b" stroke-width="1" points="1074,612.4 1181.7,371.8 1206.6,451 1237.4,295.5 1292.9,388.3 1395,121"/>
<line x1="1155.4" y1="405.6" x2="1410.6" y2="65.1" stroke="#4d75d9" stroke-width="2.2"/>
<line x1="1177.8" y1="456.5" x2="1517.4" y2="276.4" stroke="#4d75d9" stroke-width="2.2"/>
<text x="1181.5" y="360.6" font-family="Liberation Sans" font-weight="bold" font-size="13" fill="#131722" text-anchor="middle">1</text>
<text x="1206.6" y="475.0" font-family="Liberation Sans" font-weight="bold" font-size="13" fill="#131722" text-anchor="middle">2</text>
<text x="1237.2" y="284.40000000000003" font-family="Liberation Sans" font-weight="bold" font-size="13" fill="#131722" text-anchor="middle">3</text>
<text x="1292.4" y="412.20000000000005" font-family="Liberation Sans" font-weight="bold" font-size="13" fill="#131722" text-anchor="middle">4</text>
<text x="1394.6" y="109.39999999999999" font-family="Liberation Sans" font-weight="bold" font-size="13" fill="#131722" text-anchor="middle">5</text>
<text x="853" y="229.8" font-family="Liberation Sans" font-style="italic" font-size="29" fill="#2e5cc9" textLength="68.5" lengthAdjust="spacingAndGlyphs">1929</text>
<text x="1363" y="539.7" font-family="Liberation Sans" font-style="italic" font-weight="bold" font-size="16" fill="#2e5cc9" textLength="55" lengthAdjust="spacingAndGlyphs">200ma</text>
<text x="1418" y="135.7" font-family="Liberation Sans" font-style="italic" font-weight="bold" font-size="12" fill="#3e68cf" textLength="65" lengthAdjust="spacingAndGlyphs">Partial rise</text>
</g>
<g clip-path="url(#rc)">
<defs><linearGradient id="ob" x1="0" y1="871.1" x2="0" y2="973.3" gradientUnits="userSpaceOnUse"><stop offset="0" stop-color="#4caf50" stop-opacity="1"/><stop offset="1" stop-color="#4caf50" stop-opacity="0"/></linearGradient><clipPath id="above70"><rect x="10" y="0" width="1958" height="973.3"/></clipPath></defs>
<polygon clip-path="url(#above70)" fill="url(#ob)" points="9.5,973.3 9.5,1039.8 12.6,1034.7 17.7,1021.2 22.8,1008.9 27.9,1002.3 32.9,1006.6 38.0,988.9 43.1,972.2 48.2,979.8 53.3,968.0 58.3,966.8 63.4,966.4 68.5,1007.5 73.6,1000.6 78.7,989.6 83.8,984.9 88.8,1000.3 93.9,1019.6 99.0,1024.7 104.1,1009.3 109.2,999.7 114.2,991.5 119.3,968.2 124.4,963.2 129.5,959.2 134.6,957.2 139.7,954.2 144.7,937.7 149.8,929.8 154.9,923.0 160.0,920.1 165.1,932.4 170.2,927.3 175.2,926.6 180.3,954.6 185.4,957.8 190.5,956.6 195.6,952.9 200.6,939.3 205.7,975.8 210.8,992.1 215.9,1023.9 221.0,1025.7 226.1,1013.7 231.1,1001.3 236.2,1015.6 241.3,1007.1 246.4,986.4 251.5,981.1 256.5,968.5 261.6,964.1 266.7,975.6 271.8,980.2 276.9,974.7 282.0,979.8 287.0,967.7 292.1,970.3 297.2,957.3 302.3,951.2 307.4,972.1 312.5,957.2 317.5,949.5 322.6,940.7 327.7,955.0 332.8,955.0 337.9,941.4 342.9,936.9 348.0,953.2 353.1,951.4 358.2,946.2 363.3,940.0 368.4,930.1 373.4,924.8 378.5,917.7 383.6,933.0 388.7,987.2 393.8,983.9 398.9,976.6 403.9,978.4 409.0,991.2 414.1,974.6 419.2,978.3 424.3,968.8 429.3,1000.0 434.4,1007.2 439.5,992.9 444.6,981.6 449.7,974.2 454.8,984.0 459.8,1026.6 464.9,1047.9 470.0,1034.7 475.1,1068.4 480.2,1080.4 485.2,1084.5 490.3,1081.0 495.4,1095.3 500.5,1064.8 505.6,1058.0 510.7,1071.7 515.7,1076.7 520.8,1069.1 525.9,1053.4 531.0,1044.1 536.1,1034.6 541.2,1015.3 546.2,1021.7 551.3,1009.1 556.4,1010.3 561.5,996.0 566.6,1009.4 571.6,992.5 576.7,981.2 581.8,977.6 586.9,995.2 592.0,1001.3 597.1,992.5 602.1,995.1 607.2,1031.4 612.3,1024.3 617.4,1019.8 622.5,1050.1 627.5,1070.9 632.6,1066.8 637.7,1056.4 642.8,1047.3 647.9,1037.2 653.0,1047.4 658.0,1026.7 663.1,1021.8 668.2,1017.8 673.3,1012.8 678.4,1012.8 683.5,1033.9 688.5,1042.2 693.6,1045.6 698.7,1042.8 703.8,1051.2 708.9,1048.0 713.9,1038.5 719.0,1022.5 724.1,1010.7 729.2,1017.9 734.3,1013.8 739.4,1010.4 744.4,1015.4 749.5,1013.8 754.6,1001.4 759.7,989.0 764.8,976.2 769.9,998.7 774.9,983.5 780.0,980.9 785.1,966.6 790.2,964.8 795.3,988.3 800.3,984.8 805.4,989.6 810.5,1005.9 815.6,1010.5 820.7,989.4 825.8,973.7 830.8,962.1 835.9,950.3 841.0,945.5 846.1,993.7 851.2,967.8 856.2,958.5 861.3,949.5 866.4,945.4 871.5,937.4 876.6,961.3 881.7,956.5 886.7,956.5 891.8,1003.7 896.9,1040.0 902.0,1037.0 907.1,1018.9 912.2,1001.2 917.2,992.4 922.3,991.8 927.4,991.8 932.5,994.4 937.6,987.0 942.6,981.1 947.7,981.1 952.8,979.1 957.9,992.2 963.0,1001.8 968.1,993.2 973.1,1017.7 978.2,1006.5 983.3,1042.1 988.4,1038.8 993.5,1032.0 998.6,1003.9 1003.6,992.9 1008.7,981.0 1013.8,966.7 1018.9,978.9 1024.0,967.4 1029.0,998.1 1034.1,994.7 1039.2,980.3 1044.3,973.3 1049.4,987.9 1054.5,988.7 1059.5,981.8 1064.6,1022.5 1069.7,1042.2 1074.8,1050.5 1079.9,1029.2 1084.9,1021.6 1090.0,1039.4 1095.1,1032.3 1100.2,1014.3 1105.3,1013.2 1110.4,1017.9 1115.4,996.0 1120.5,971.6 1125.6,960.7 1130.7,958.6 1135.8,966.0 1140.9,968.9 1145.9,979.0 1151.0,972.2 1156.1,958.8 1161.2,945.0 1166.3,969.0 1171.3,964.0 1176.4,951.2 1181.5,936.0 1186.6,926.4 1191.7,922.8 1196.8,990.4 1201.8,989.2 1206.9,971.6 1212.0,961.5 1217.1,954.1 1222.2,962.2 1227.2,959.3 1232.3,949.7 1237.4,945.8 1242.5,992.0 1247.6,994.9 1252.7,982.6 1257.7,971.3 1262.8,992.4 1267.9,983.6 1273.0,1002.7 1278.1,1005.4 1283.2,1017.6 1288.2,1014.0 1293.3,1006.1 1298.4,1001.3 1303.5,985.8 1308.6,985.5 1313.6,996.7 1318.7,1031.3 1323.8,1046.6 1328.9,1029.1 1334.0,1019.2 1339.1,1009.3 1344.1,994.5 1349.2,980.2 1354.3,978.0 1359.4,981.3 1364.5,980.8 1369.6,972.2 1374.6,1007.5 1379.7,980.2 1384.8,968.4 1389.9,963.8 1395.0,972.4 1400.0,992.2 1405.1,1001.3 1410.2,1031.6 1415.3,1058.2 1420.4,1024.0 1425.5,1047.1 1430.5,1076.5 1435.6,1095.7 1440.7,1115.5 1445.8,1119.1 1450.9,1099.0 1455.9,1102.9 1461.0,1079.3 1466.1,1086.3 1471.2,1097.3 1476.3,1086.8 1481.4,1079.5 1486.4,1076.5 1491.5,1079.2 1496.6,1067.4 1501.7,1054.8 1506.8,1054.1 1511.9,1049.8 1516.9,1056.1 1522.0,1049.1 1527.1,1043.2 1532.2,1048.6 1537.3,1036.0 1542.3,1031.7 1547.4,1025.7 1552.5,1019.7 1557.6,1018.1 1562.7,1032.4 1567.8,1061.2 1572.8,1059.5 1577.9,1052.7 1583.0,1055.0 1588.1,1045.4 1593.2,1063.7 1598.2,1082.4 1603.3,1109.9 1608.4,1112.3 1613.5,1105.1 1618.6,1100.0 1623.7,1070.4 1628.7,1073.9 1633.8,1078.9 1638.9,1091.3 1644.0,1080.2 1649.1,1072.8 1654.2,1057.5 1659.2,1058.6 1664.3,1056.3 1669.4,1075.1 1674.5,1095.0 1679.6,1092.5 1684.6,1109.6 1689.7,1119.7 1694.8,1101.7 1699.9,1113.2 1705.0,1120.8 1710.1,1099.7 1715.1,1088.0 1720.2,1097.8 1725.3,1097.8 1730.4,1110.2 1735.5,1108.4 1740.6,1116.0 1745.6,1096.6 1750.7,1095.9 1755.8,1102.3 1760.9,1085.4 1766.0,1089.1 1771.0,1087.9 1776.1,1062.0 1781.2,1047.3 1786.3,1043.2 1791.4,1062.4 1796.5,1063.6 1801.5,1045.0 1806.6,1063.5 1811.7,1075.3 1816.8,1076.9 1821.9,1089.6 1826.9,1095.2 1832.0,1108.2 1837.1,1099.2 1842.2,1104.9 1847.3,1111.0 1852.4,1123.2 1857.4,1109.5 1862.5,1099.2 1867.6,1108.0 1872.7,1054.5 1877.8,1052.2 1882.9,1065.6 1887.9,1071.7 1893.0,1077.6 1898.1,1082.6 1903.2,1083.0 1908.3,1060.9 1913.3,1071.5 1918.4,1065.4 1923.5,1080.0 1928.6,1085.6 1933.7,1104.3 1938.8,1110.1 1943.8,1123.9 1948.9,1104.8 1954.0,1106.6 1959.1,1090.1 1964.2,1097.1 1969.3,1083.5 1969.3,973.3"/>
<polyline fill="none" stroke="#eedd7e" stroke-width="1.8" stroke-linejoin="round" points="9.5,1064.3 12.6,1062.8 17.7,1059.7 22.8,1055.7 27.9,1051.2 32.9,1047.1 38.0,1041.6 43.1,1035.0 48.2,1028.9 53.3,1022.0 58.3,1015.0 63.4,1007.9 68.5,1003.8 73.6,999.2 78.7,993.8 83.8,990.3 88.8,988.8 93.9,989.5 99.0,991.1 104.1,991.3 109.2,992.1 114.2,993.5 119.3,992.7 124.4,992.3 129.5,991.8 134.6,991.1 139.7,987.3 144.7,982.8 149.8,978.5 154.9,974.1 160.0,968.4 165.1,962.2 170.2,955.2 175.2,949.3 180.3,946.1 185.4,943.7 190.5,942.8 195.6,942.1 200.6,940.7 205.7,942.0 210.8,944.7 215.9,950.9 221.0,957.7 226.1,964.2 231.1,970.0 236.2,976.0 241.3,981.7 246.4,985.9 251.5,987.8 256.5,988.6 261.6,989.1 266.7,990.7 271.8,993.6 276.9,993.6 282.0,992.7 287.0,988.7 292.1,984.7 297.2,980.7 302.3,977.1 307.4,974.0 312.5,970.4 317.5,967.8 322.6,964.9 327.7,964.0 332.8,963.3 337.9,960.9 342.9,957.8 348.0,956.2 353.1,954.2 358.2,952.7 363.3,950.5 368.4,948.6 373.4,946.7 378.5,942.8 383.6,941.1 388.7,943.8 393.8,946.9 398.9,948.4 403.9,950.1 409.0,953.6 414.1,956.3 419.2,958.1 424.3,959.4 429.3,963.2 434.4,968.0 439.5,972.5 444.6,976.5 449.7,980.6 454.8,984.2 459.8,987.0 464.9,991.6 470.0,995.7 475.1,1002.2 480.2,1008.5 485.2,1016.4 490.3,1023.7 495.4,1032.8 500.5,1037.4 505.6,1041.0 510.7,1046.6 515.7,1053.4 520.8,1060.2 525.9,1065.2 531.0,1066.4 536.1,1065.5 541.2,1064.1 546.2,1060.8 551.3,1055.7 556.4,1050.4 561.5,1044.3 566.6,1038.1 571.6,1033.0 576.7,1027.5 581.8,1020.8 586.9,1015.0 592.0,1010.1 597.1,1005.8 602.1,1002.3 607.2,1002.0 612.3,1002.7 617.4,1002.5 622.5,1005.5 627.5,1009.8 632.6,1014.9 637.7,1018.2 642.8,1022.1 647.9,1026.1 653.0,1031.1 658.0,1033.4 663.1,1034.8 668.2,1036.6 673.3,1037.9 678.4,1036.6 683.5,1037.3 688.5,1038.9 693.6,1038.5 698.7,1036.5 703.8,1035.4 708.9,1034.8 713.9,1034.2 719.0,1033.1 724.1,1030.5 729.2,1029.9 734.3,1029.3 739.4,1028.8 744.4,1029.0 749.5,1029.0 754.6,1026.7 759.7,1022.9 764.8,1018.0 769.9,1014.8 774.9,1010.0 780.0,1005.2 785.1,1000.0 790.2,995.9 795.3,994.3 800.3,992.0 805.4,990.2 810.5,989.9 815.6,989.6 820.7,987.8 825.8,985.9 830.8,983.9 835.9,982.1 841.0,978.3 846.1,979.0 851.2,978.1 856.2,977.5 861.3,976.4 866.4,973.3 871.5,970.0 876.6,967.9 881.7,964.4 886.7,960.6 891.8,961.6 896.9,966.3 902.0,971.7 907.1,976.6 912.2,980.5 917.2,980.4 922.3,982.2 927.4,984.5 932.5,987.7 937.6,990.7 942.6,993.8 947.7,995.2 952.8,996.8 957.9,999.4 963.0,999.3 968.1,995.9 973.1,994.5 978.2,993.7 983.3,996.6 988.4,999.9 993.5,1002.8 998.6,1003.6 1003.6,1003.5 1008.7,1003.1 1013.8,1002.1 1018.9,1001.9 1024.0,1001.1 1029.0,1001.5 1034.1,1001.0 1039.2,1000.1 1044.3,996.9 1049.4,995.6 1054.5,991.8 1059.5,987.7 1064.6,987.0 1069.7,989.7 1074.8,993.9 1079.9,997.3 1084.9,1001.2 1090.0,1005.5 1095.1,1010.2 1100.2,1011.3 1105.3,1012.7 1110.4,1015.3 1115.4,1017.0 1120.5,1015.8 1125.6,1013.8 1130.7,1012.1 1135.8,1008.1 1140.9,1002.9 1145.9,997.8 1151.0,993.7 1156.1,989.2 1161.2,982.5 1166.3,977.9 1171.3,974.3 1176.4,969.9 1181.5,964.1 1186.6,959.1 1191.7,955.6 1196.8,957.7 1201.8,959.9 1206.9,960.3 1212.0,959.8 1217.1,958.0 1222.2,957.3 1227.2,957.3 1232.3,957.7 1237.4,956.0 1242.5,958.0 1247.6,961.1 1252.7,964.5 1257.7,967.7 1262.8,972.6 1267.9,972.2 1273.0,973.1 1278.1,975.5 1283.2,979.5 1288.2,983.8 1293.3,987.0 1298.4,990.0 1303.5,992.5 1308.6,995.4 1313.6,995.7 1318.7,998.3 1323.8,1002.9 1328.9,1007.0 1334.0,1008.9 1339.1,1010.7 1344.1,1010.2 1349.2,1008.4 1354.3,1005.5 1359.4,1003.2 1364.5,1001.4 1369.6,999.3 1374.6,1000.9 1379.7,1000.5 1384.8,998.5 1389.9,993.6 1395.0,988.3 1400.0,985.7 1405.1,984.4 1410.2,986.0 1415.3,990.6 1420.4,993.7 1425.5,998.6 1430.5,1005.4 1435.6,1013.6 1440.7,1023.9 1445.8,1031.8 1450.9,1040.3 1455.9,1049.9 1461.0,1058.2 1466.1,1066.3 1471.2,1073.8 1476.3,1079.9 1481.4,1083.4 1486.4,1084.7 1491.5,1088.6 1496.6,1090.1 1501.7,1088.5 1506.8,1085.5 1511.9,1080.9 1516.9,1076.3 1522.0,1072.8 1527.1,1068.5 1532.2,1066.3 1537.3,1062.7 1542.3,1058.0 1547.4,1053.7 1552.5,1049.4 1557.6,1045.2 1562.7,1041.9 1567.8,1041.4 1572.8,1041.8 1577.9,1041.7 1583.0,1042.1 1588.1,1041.3 1593.2,1042.3 1598.2,1045.1 1603.3,1049.5 1608.4,1055.0 1613.5,1060.2 1618.6,1065.5 1623.7,1069.1 1628.7,1073.1 1633.8,1076.5 1638.9,1078.6 1644.0,1080.1 1649.1,1081.5 1654.2,1081.7 1659.2,1082.6 1664.3,1082.1 1669.4,1081.6 1674.5,1080.5 1679.6,1079.1 1684.6,1079.4 1689.7,1080.9 1694.8,1083.1 1699.9,1085.9 1705.0,1088.9 1710.1,1089.5 1715.1,1090.0 1720.2,1091.8 1725.3,1094.7 1730.4,1098.4 1735.5,1102.1 1740.6,1105.0 1745.6,1105.2 1750.7,1105.4 1755.8,1104.9 1760.9,1102.4 1766.0,1101.5 1771.0,1099.7 1776.1,1095.5 1781.2,1091.8 1786.3,1088.6 1791.4,1086.0 1796.5,1083.6 1801.5,1078.9 1806.6,1075.7 1811.7,1072.8 1816.8,1071.4 1821.9,1071.0 1826.9,1070.5 1832.0,1072.1 1837.1,1072.8 1842.2,1074.0 1847.3,1077.5 1852.4,1082.9 1857.4,1087.7 1862.5,1090.3 1867.6,1093.5 1872.7,1094.1 1877.8,1093.3 1882.9,1092.6 1887.9,1092.3 1893.0,1091.4 1898.1,1090.5 1903.2,1088.7 1908.3,1086.0 1913.3,1083.6 1918.4,1080.3 1923.5,1077.3 1928.6,1075.5 1933.7,1075.9 1938.8,1076.1 1943.8,1081.0 1948.9,1084.8 1954.0,1087.7 1959.1,1089.0 1964.2,1090.4 1969.3,1090.5"/>
<polyline fill="none" stroke="#7767c2" stroke-width="1.2" stroke-linejoin="round" points="9.5,1039.8 12.6,1034.7 17.7,1021.2 22.8,1008.9 27.9,1002.3 32.9,1006.6 38.0,988.9 43.1,972.2 48.2,979.8 53.3,968.0 58.3,966.8 63.4,966.4 68.5,1007.5 73.6,1000.6 78.7,989.6 83.8,984.9 88.8,1000.3 93.9,1019.6 99.0,1024.7 104.1,1009.3 109.2,999.7 114.2,991.5 119.3,968.2 124.4,963.2 129.5,959.2 134.6,957.2 139.7,954.2 144.7,937.7 149.8,929.8 154.9,923.0 160.0,920.1 165.1,932.4 170.2,927.3 175.2,926.6 180.3,954.6 185.4,957.8 190.5,956.6 195.6,952.9 200.6,939.3 205.7,975.8 210.8,992.1 215.9,1023.9 221.0,1025.7 226.1,1013.7 231.1,1001.3 236.2,1015.6 241.3,1007.1 246.4,986.4 251.5,981.1 256.5,968.5 261.6,964.1 266.7,975.6 271.8,980.2 276.9,974.7 282.0,979.8 287.0,967.7 292.1,970.3 297.2,957.3 302.3,951.2 307.4,972.1 312.5,957.2 317.5,949.5 322.6,940.7 327.7,955.0 332.8,955.0 337.9,941.4 342.9,936.9 348.0,953.2 353.1,951.4 358.2,946.2 363.3,940.0 368.4,930.1 373.4,924.8 378.5,917.7 383.6,933.0 388.7,987.2 393.8,983.9 398.9,976.6 403.9,978.4 409.0,991.2 414.1,974.6 419.2,978.3 424.3,968.8 429.3,1000.0 434.4,1007.2 439.5,992.9 444.6,981.6 449.7,974.2 454.8,984.0 459.8,1026.6 464.9,1047.9 470.0,1034.7 475.1,1068.4 480.2,1080.4 485.2,1084.5 490.3,1081.0 495.4,1095.3 500.5,1064.8 505.6,1058.0 510.7,1071.7 515.7,1076.7 520.8,1069.1 525.9,1053.4 531.0,1044.1 536.1,1034.6 541.2,1015.3 546.2,1021.7 551.3,1009.1 556.4,1010.3 561.5,996.0 566.6,1009.4 571.6,992.5 576.7,981.2 581.8,977.6 586.9,995.2 592.0,1001.3 597.1,992.5 602.1,995.1 607.2,1031.4 612.3,1024.3 617.4,1019.8 622.5,1050.1 627.5,1070.9 632.6,1066.8 637.7,1056.4 642.8,1047.3 647.9,1037.2 653.0,1047.4 658.0,1026.7 663.1,1021.8 668.2,1017.8 673.3,1012.8 678.4,1012.8 683.5,1033.9 688.5,1042.2 693.6,1045.6 698.7,1042.8 703.8,1051.2 708.9,1048.0 713.9,1038.5 719.0,1022.5 724.1,1010.7 729.2,1017.9 734.3,1013.8 739.4,1010.4 744.4,1015.4 749.5,1013.8 754.6,1001.4 759.7,989.0 764.8,976.2 769.9,998.7 774.9,983.5 780.0,980.9 785.1,966.6 790.2,964.8 795.3,988.3 800.3,984.8 805.4,989.6 810.5,1005.9 815.6,1010.5 820.7,989.4 825.8,973.7 830.8,962.1 835.9,950.3 841.0,945.5 846.1,993.7 851.2,967.8 856.2,958.5 861.3,949.5 866.4,945.4 871.5,937.4 876.6,961.3 881.7,956.5 886.7,956.5 891.8,1003.7 896.9,1040.0 902.0,1037.0 907.1,1018.9 912.2,1001.2 917.2,992.4 922.3,991.8 927.4,991.8 932.5,994.4 937.6,987.0 942.6,981.1 947.7,981.1 952.8,979.1 957.9,992.2 963.0,1001.8 968.1,993.2 973.1,1017.7 978.2,1006.5 983.3,1042.1 988.4,1038.8 993.5,1032.0 998.6,1003.9 1003.6,992.9 1008.7,981.0 1013.8,966.7 1018.9,978.9 1024.0,967.4 1029.0,998.1 1034.1,994.7 1039.2,980.3 1044.3,973.3 1049.4,987.9 1054.5,988.7 1059.5,981.8 1064.6,1022.5 1069.7,1042.2 1074.8,1050.5 1079.9,1029.2 1084.9,1021.6 1090.0,1039.4 1095.1,1032.3 1100.2,1014.3 1105.3,1013.2 1110.4,1017.9 1115.4,996.0 1120.5,971.6 1125.6,960.7 1130.7,958.6 1135.8,966.0 1140.9,968.9 1145.9,979.0 1151.0,972.2 1156.1,958.8 1161.2,945.0 1166.3,969.0 1171.3,964.0 1176.4,951.2 1181.5,936.0 1186.6,926.4 1191.7,922.8 1196.8,990.4 1201.8,989.2 1206.9,971.6 1212.0,961.5 1217.1,954.1 1222.2,962.2 1227.2,959.3 1232.3,949.7 1237.4,945.8 1242.5,992.0 1247.6,994.9 1252.7,982.6 1257.7,971.3 1262.8,992.4 1267.9,983.6 1273.0,1002.7 1278.1,1005.4 1283.2,1017.6 1288.2,1014.0 1293.3,1006.1 1298.4,1001.3 1303.5,985.8 1308.6,985.5 1313.6,996.7 1318.7,1031.3 1323.8,1046.6 1328.9,1029.1 1334.0,1019.2 1339.1,1009.3 1344.1,994.5 1349.2,980.2 1354.3,978.0 1359.4,981.3 1364.5,980.8 1369.6,972.2 1374.6,1007.5 1379.7,980.2 1384.8,968.4 1389.9,963.8 1395.0,972.4 1400.0,992.2 1405.1,1001.3 1410.2,1031.6 1415.3,1058.2 1420.4,1024.0 1425.5,1047.1 1430.5,1076.5 1435.6,1095.7 1440.7,1115.5 1445.8,1119.1 1450.9,1099.0 1455.9,1102.9 1461.0,1079.3 1466.1,1086.3 1471.2,1097.3 1476.3,1086.8 1481.4,1079.5 1486.4,1076.5 1491.5,1079.2 1496.6,1067.4 1501.7,1054.8 1506.8,1054.1 1511.9,1049.8 1516.9,1056.1 1522.0,1049.1 1527.1,1043.2 1532.2,1048.6 1537.3,1036.0 1542.3,1031.7 1547.4,1025.7 1552.5,1019.7 1557.6,1018.1 1562.7,1032.4 1567.8,1061.2 1572.8,1059.5 1577.9,1052.7 1583.0,1055.0 1588.1,1045.4 1593.2,1063.7 1598.2,1082.4 1603.3,1109.9 1608.4,1112.3 1613.5,1105.1 1618.6,1100.0 1623.7,1070.4 1628.7,1073.9 1633.8,1078.9 1638.9,1091.3 1644.0,1080.2 1649.1,1072.8 1654.2,1057.5 1659.2,1058.6 1664.3,1056.3 1669.4,1075.1 1674.5,1095.0 1679.6,1092.5 1684.6,1109.6 1689.7,1119.7 1694.8,1101.7 1699.9,1113.2 1705.0,1120.8 1710.1,1099.7 1715.1,1088.0 1720.2,1097.8 1725.3,1097.8 1730.4,1110.2 1735.5,1108.4 1740.6,1116.0 1745.6,1096.6 1750.7,1095.9 1755.8,1102.3 1760.9,1085.4 1766.0,1089.1 1771.0,1087.9 1776.1,1062.0 1781.2,1047.3 1786.3,1043.2 1791.4,1062.4 1796.5,1063.6 1801.5,1045.0 1806.6,1063.5 1811.7,1075.3 1816.8,1076.9 1821.9,1089.6 1826.9,1095.2 1832.0,1108.2 1837.1,1099.2 1842.2,1104.9 1847.3,1111.0 1852.4,1123.2 1857.4,1109.5 1862.5,1099.2 1867.6,1108.0 1872.7,1054.5 1877.8,1052.2 1882.9,1065.6 1887.9,1071.7 1893.0,1077.6 1898.1,1082.6 1903.2,1083.0 1908.3,1060.9 1913.3,1071.5 1918.4,1065.4 1923.5,1080.0 1928.6,1085.6 1933.7,1104.3 1938.8,1110.1 1943.8,1123.9 1948.9,1104.8 1954.0,1106.6 1959.1,1090.1 1964.2,1097.1 1969.3,1083.5"/>
</g>
<line x1="10" y1="893.5" x2="2037" y2="893.5" stroke="#3d3d3d" stroke-width="1"/>
<line x1="1968.5" y1="28" x2="1968.5" y2="1178" stroke="#a9a69d" stroke-width="1"/>
<line x1="10" y1="1146.5" x2="2037" y2="1146.5" stroke="#a9a69d" stroke-width="1"/>
<text x="1978" y="873.6" font-family="Liberation Sans" font-size="15.4" fill="#131722" stroke="#131722" stroke-width="0.25">100.00</text>
<text x="1978" y="822.1" font-family="Liberation Sans" font-size="15.4" fill="#131722" stroke="#131722" stroke-width="0.25">120.00</text>
<text x="1978" y="770.7" font-family="Liberation Sans" font-size="15.4" fill="#131722" stroke="#131722" stroke-width="0.25">140.00</text>
<text x="1978" y="719.3" font-family="Liberation Sans" font-size="15.4" fill="#131722" stroke="#131722" stroke-width="0.25">160.00</text>
<text x="1978" y="667.8" font-family="Liberation Sans" font-size="15.4" fill="#131722" stroke="#131722" stroke-width="0.25">180.00</text>
<text x="1978" y="616.4" font-family="Liberation Sans" font-size="15.4" fill="#131722" stroke="#131722" stroke-width="0.25">200.00</text>
<text x="1978" y="565.0" font-family="Liberation Sans" font-size="15.4" fill="#131722" stroke="#131722" stroke-width="0.25">220.00</text>
<text x="1978" y="513.5" font-family="Liberation Sans" font-size="15.4" fill="#131722" stroke="#131722" stroke-width="0.25">240.00</text>
<text x="1978" y="462.1" font-family="Liberation Sans" font-size="15.4" fill="#131722" stroke="#131722" stroke-width="0.25">260.00</text>
<text x="1978" y="410.7" font-family="Liberation Sans" font-size="15.4" fill="#131722" stroke="#131722" stroke-width="0.25">280.00</text>
<text x="1978" y="359.3" font-family="Liberation Sans" font-size="15.4" fill="#131722" stroke="#131722" stroke-width="0.25">300.00</text>
<text x="1978" y="307.8" font-family="Liberation Sans" font-size="15.4" fill="#131722" stroke="#131722" stroke-width="0.25">320.00</text>
<text x="1978" y="256.4" font-family="Liberation Sans" font-size="15.4" fill="#131722" stroke="#131722" stroke-width="0.25">340.00</text>
<text x="1978" y="205.0" font-family="Liberation Sans" font-size="15.4" fill="#131722" stroke="#131722" stroke-width="0.25">360.00</text>
<text x="1978" y="153.5" font-family="Liberation Sans" font-size="15.4" fill="#131722" stroke="#131722" stroke-width="0.25">380.00</text>
<text x="1978" y="102.1" font-family="Liberation Sans" font-size="15.4" fill="#131722" stroke="#131722" stroke-width="0.25">400.00</text>
<text x="1978" y="1148.4" font-family="Liberation Sans" font-size="15.4" fill="#131722" stroke="#131722" stroke-width="0.25">20.00</text>
<text x="1978" y="1080.3" font-family="Liberation Sans" font-size="15.4" fill="#131722" stroke="#131722" stroke-width="0.25">40.00</text>
<text x="1978" y="1012.1" font-family="Liberation Sans" font-size="15.4" fill="#131722" stroke="#131722" stroke-width="0.25">60.00</text>
<text x="1978" y="944.0" font-family="Liberation Sans" font-size="15.4" fill="#131722" stroke="#131722" stroke-width="0.25">80.00</text>
<rect x="1969" y="1147" width="68" height="31" fill="#f5f2e5"/>
<line x1="1968" y1="1146.5" x2="2037" y2="1146.5" stroke="#a9a69d" stroke-width="1"/>
<rect x="1971" y="31.5" width="62" height="26" rx="4" fill="#ebe8de"/>
<rect x="1971.8" y="32.2" width="60.5" height="24.6" rx="3.5" fill="#ffffff"/>
<text x="1981.5" y="49.6" font-family="Liberation Sans" font-size="12.8" fill="#131722" textLength="24.4" lengthAdjust="spacingAndGlyphs">USD</text>
<text x="27.8" y="1168" font-family="Liberation Sans" font-size="14" fill="#131722" stroke="#131722" stroke-width="0.25" text-anchor="middle" textLength="18" lengthAdjust="spacingAndGlyphs">Jul</text>
<text x="160.2" y="1168" font-family="Liberation Sans" font-size="14" font-weight="bold" fill="#131722" text-anchor="middle" textLength="35.7" lengthAdjust="spacingAndGlyphs">1925</text>
<text x="291.8" y="1168" font-family="Liberation Sans" font-size="14" fill="#131722" stroke="#131722" stroke-width="0.25" text-anchor="middle" textLength="18" lengthAdjust="spacingAndGlyphs">Jul</text>
<text x="424.2" y="1168" font-family="Liberation Sans" font-size="14" font-weight="bold" fill="#131722" text-anchor="middle" textLength="35.7" lengthAdjust="spacingAndGlyphs">1926</text>
<text x="555.8" y="1168" font-family="Liberation Sans" font-size="14" fill="#131722" stroke="#131722" stroke-width="0.25" text-anchor="middle" textLength="18" lengthAdjust="spacingAndGlyphs">Jul</text>
<text x="688.2" y="1168" font-family="Liberation Sans" font-size="14" font-weight="bold" fill="#131722" text-anchor="middle" textLength="35.7" lengthAdjust="spacingAndGlyphs">1927</text>
<text x="819.8" y="1168" font-family="Liberation Sans" font-size="14" fill="#131722" stroke="#131722" stroke-width="0.25" text-anchor="middle" textLength="18" lengthAdjust="spacingAndGlyphs">Jul</text>
<text x="952.2" y="1168" font-family="Liberation Sans" font-size="14" font-weight="bold" fill="#131722" text-anchor="middle" textLength="35.7" lengthAdjust="spacingAndGlyphs">1928</text>
<text x="1084.8" y="1168" font-family="Liberation Sans" font-size="14" fill="#131722" stroke="#131722" stroke-width="0.25" text-anchor="middle" textLength="18" lengthAdjust="spacingAndGlyphs">Jul</text>
<text x="1222.2" y="1168" font-family="Liberation Sans" font-size="14" font-weight="bold" fill="#131722" text-anchor="middle" textLength="35.7" lengthAdjust="spacingAndGlyphs">1929</text>
<text x="1348.8" y="1168" font-family="Liberation Sans" font-size="14" fill="#131722" stroke="#131722" stroke-width="0.25" text-anchor="middle" textLength="18" lengthAdjust="spacingAndGlyphs">Jul</text>
<text x="1486.7" y="1168" font-family="Liberation Sans" font-size="14" font-weight="bold" fill="#131722" text-anchor="middle" textLength="35.7" lengthAdjust="spacingAndGlyphs">1930</text>
<text x="1618.8" y="1168" font-family="Liberation Sans" font-size="14" fill="#131722" stroke="#131722" stroke-width="0.25" text-anchor="middle" textLength="18" lengthAdjust="spacingAndGlyphs">Jul</text>
<text x="1751.2" y="1168" font-family="Liberation Sans" font-size="14" font-weight="bold" fill="#131722" text-anchor="middle" textLength="35.7" lengthAdjust="spacingAndGlyphs">1931</text>
<text x="1882.8" y="1168" font-family="Liberation Sans" font-size="14" fill="#131722" stroke="#131722" stroke-width="0.25" text-anchor="middle" textLength="18" lengthAdjust="spacingAndGlyphs">Jul</text>
<text x="18.5" y="49.4" font-family="Liberation Sans" font-size="12.8" fill="#131722" stroke="#131722" stroke-width="0.3" textLength="295.4" lengthAdjust="spacingAndGlyphs">DJI · Dow Jones Industrial Average Index · 1W · TVC</text>
<text x="18.8" y="66.9" font-family="Liberation Sans" font-size="12.6" fill="#131722" stroke="#131722" stroke-width="0.3" textLength="24.9" lengthAdjust="spacingAndGlyphs">EMA</text>
<text x="51.9" y="66.9" font-family="Liberation Sans" font-size="12.6" fill="#8d3b27" stroke="#8d3b27" stroke-width="0.3" textLength="56" lengthAdjust="spacingAndGlyphs">37,693.05</text>
<text x="18.8" y="915.8" font-family="Liberation Sans" font-size="12.8" fill="#131722" stroke="#131722" stroke-width="0.3" textLength="17.3" lengthAdjust="spacingAndGlyphs">RSI</text>
<text x="44.6" y="915.8" font-family="Liberation Sans" font-size="12.8" fill="#7e67bf" stroke="#7e67bf" stroke-width="0.3" textLength="30.2" lengthAdjust="spacingAndGlyphs">61.32</text>
<text x="83" y="915.8" font-family="Liberation Sans" font-size="12.8" fill="#e9dc55" stroke="#e9dc55" stroke-width="0.3" textLength="32.2" lengthAdjust="spacingAndGlyphs">56.98</text>
<text x="10.5" y="22.6" font-family="Liberation Sans" font-size="13.2" fill="#e6e6e6" stroke="#e6e6e6" stroke-width="0.25" textLength="397.5" lengthAdjust="spacingAndGlyphs">great_martis created with TradingView.com, Aug 31, 2025 21:36 UTC</text>
<path d="M12.2 1201.1H23.8V1216.5H18.2V1207H12.2Z" fill="#e3e3e3"/>
<circle cx="29.5" cy="1204.4" r="2.9" fill="#e3e3e3"/>
<path d="M36.1 1201.1H42.2L36.4 1216.5H29.9Z" fill="#e3e3e3"/>
<text x="50.3" y="1217" font-family="Liberation Sans" font-weight="bold" font-size="22" fill="#e3e3e3" textLength="122.6" lengthAdjust="spacingAndGlyphs">TradingView</text>
</svg></body></html>
